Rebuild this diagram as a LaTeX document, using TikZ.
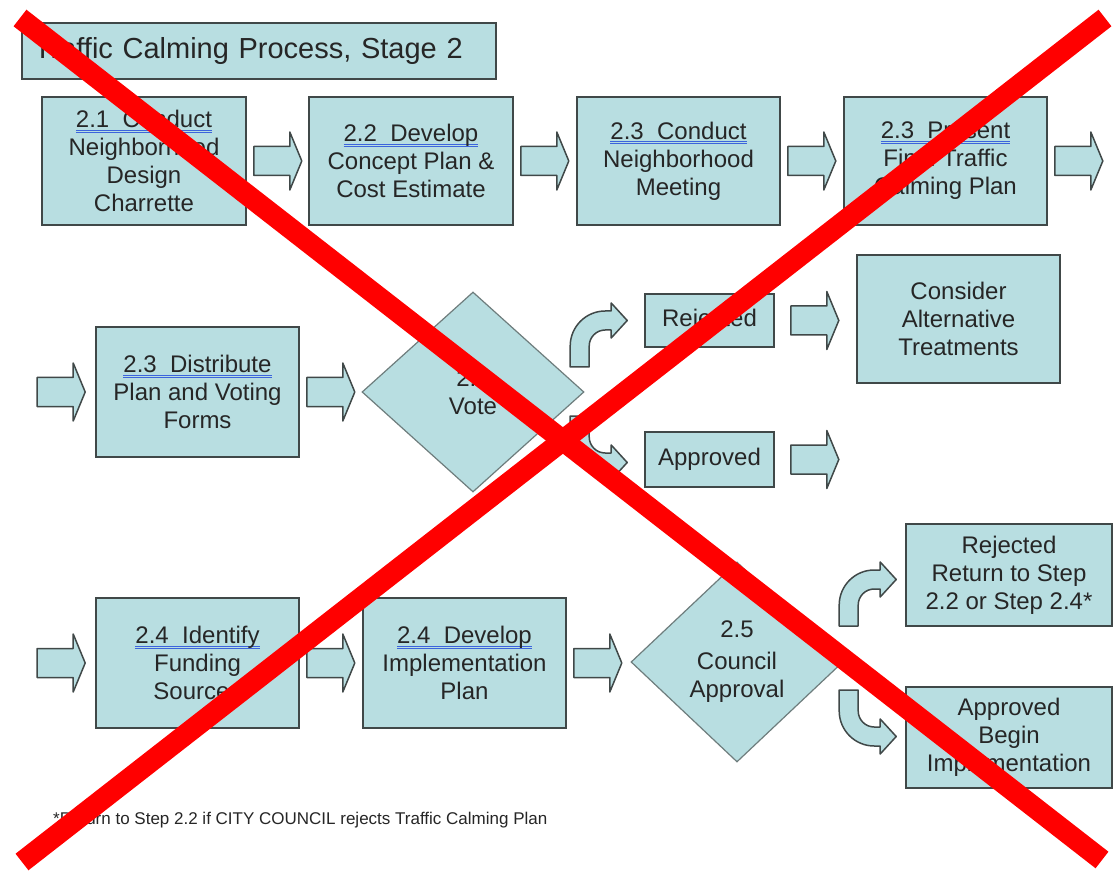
\documentclass[tikz,border=0pt]{standalone}
\usepackage{fontspec}
\setmainfont{Liberation Sans}
\usetikzlibrary{shapes.geometric,calc}
\definecolor{boxfill}{RGB}{184,222,225}
\definecolor{boxline}{RGB}{64,72,72}
\definecolor{diaLine}{RGB}{110,125,125}
\definecolor{ulblue}{RGB}{60,100,220}
\definecolor{xred}{RGB}{255,0,0}
\newcommand\bul[1]{\leavevmode\setbox0\hbox{#1}\rlap{\color{ulblue}\rule[-3pt]{\wd0}{1pt}}\rlap{\color{ulblue}\rule[-5pt]{\wd0}{1pt}}\box0}
\newcommand\barrow[1]{\draw[blk] (#1) ++(0,-14.5) -- ++(36,0) -- ++(0,-14.5) -- ++(12,29) -- ++(-12,29) -- ++(0,-14.5) -- ++(-36,0) -- cycle;}
\newcommand\carrow[2]{\begin{scope}[shift={#1},yscale=#2]
\draw[blk] (-35,21) -- (-35,0) .. controls (-35,-19.3) and (-19.3,-35) .. (0,-35) -- (6,-35) -- (6,-43) -- (22,-25.5) -- (6,-8) -- (6,-16) -- (0,-16) .. controls (-8.8,-16) and (-16,-8.8) .. (-16,0) -- (-16,21) -- cycle;
\end{scope}}
\tikzset{
  box/.style={draw=boxline, line width=1.6, fill=boxfill, inner sep=0, align=center,
    font=\fontsize{24}{28}\selectfont, text=black!85},
  dia/.style={diamond, draw=diaLine, line width=1.2, fill=boxfill, inner sep=0, align=center,
    font=\fontsize{24}{28}\selectfont, text=black!85},
  blk/.style={draw=boxline, line width=1.5, fill=boxfill, line join=round},
  redx/.style={draw=xred, line width=21, line cap=butt}
}
\begin{document}
\begin{tikzpicture}[x=1pt,y=-1pt]
\useasboundingbox (0,0) rectangle (1117,877);
\fill[white] (0,0) rectangle (1117,877);

% title
\node[box, minimum width=474, minimum height=56, text width=450, align=left,
  font=\fontsize{29}{32}\selectfont] (title) at (259,51) {Traffic Calming Process, Stage 2};

% row 1
\node[box, minimum width=204, minimum height=128] (b1) at (144,161)
  {\bul{2.1\ \ Conduct}\\Neighborhood\\Design\\Charrette};
\node[box, minimum width=204, minimum height=128] (b2) at (411,161)
  {\bul{2.2\ \ Develop}\\Concept Plan \&\\Cost Estimate};
\node[box, minimum width=203, minimum height=128] (b3) at (678.5,161)
  {\bul{2.3\ \ Conduct}\\Neighborhood\\Meeting};
\node[box, minimum width=203, minimum height=128] (b4) at (945.5,161)
  {\bul{2.3\ \ Present}\\Final Traffic\\Calming Plan};
\barrow{$(b1.east)+(7,0)$}
\barrow{$(b2.east)+(7,0)$}
\barrow{$(b3.east)+(7,0)$}
\barrow{$(b4.east)+(7,0)$}

% row 2
\node[box, minimum width=203, minimum height=130] (b5) at (197.5,392)
  {\bul{2.3\ \ Distribute}\\Plan and Voting\\Forms};
\node[dia, minimum width=222, minimum height=200] (vote) at (473,392) {2.3\\Vote};
\node[box, minimum width=129, minimum height=53] (rej1) at (709.5,320.5) {Rejected};
\node[box, minimum width=203, minimum height=128] (alt) at (958.5,319)
  {Consider\\Alternative\\Treatments};
\node[box, minimum width=129, minimum height=55] (app1) at (709.5,459.5) {Approved};
\barrow{$(b5.west)+(-58,0)$}
\barrow{$(b5.east)+(7,0)$}
\barrow{$(rej1.east)+(16,0)$}
\barrow{$(app1.east)+(16,0)$}
\carrow{($(rej1.west)+(-39,25.5)$)}{1}
\carrow{($(app1.west)+(-39,-22.5)$)}{-1}

% row 3
\node[box, minimum width=203, minimum height=130] (b6) at (197.5,663)
  {\bul{2.4\ \ Identify}\\Funding\\Sources};
\node[box, minimum width=203, minimum height=130] (b7) at (464.5,663)
  {\bul{2.4\ \ Develop}\\Implementation\\Plan};
\node[dia, minimum width=212, minimum height=200] (council) at (737,662)
  {2.5\\[4pt]Council\\Approval};
\node[box, minimum width=206, minimum height=102] (rej2) at (1009,575)
  {Rejected\\Return to Step\\2.2 or Step 2.4*};
\node[box, minimum width=206, minimum height=101] (app2) at (1009,737.5)
  {Approved\\Begin\\Implementation};
\barrow{$(b6.west)+(-58,0)$}
\barrow{$(b6.east)+(7,0)$}
\barrow{$(b7.east)+(7,0)$}
\carrow{($(rej2.west)+(-31,30)$)}{1}
\carrow{($(app2.west)+(-31,-26.5)$)}{-1}

% footnote
\node[anchor=west, inner sep=0, font=\fontsize{17}{19}\selectfont, text=black!85] (note) at (53,820)
  {*Return to Step 2.2 if CITY COUNCIL rejects Traffic Calming Plan};

% red cross
\coordinate (x1a) at (20,18);
\coordinate (x1b) at (1102,860);
\coordinate (x2a) at (22,862);
\coordinate (x2b) at (1105,18);
\draw[redx] (x1a) -- (x1b);
\draw[redx] (x2a) -- (x2b);
\end{tikzpicture}
\end{document}
